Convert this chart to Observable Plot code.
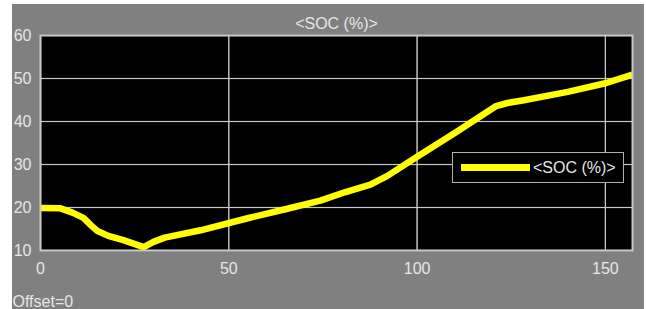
<!DOCTYPE html>
<html>
<head>
<meta charset="utf-8">
<script src="https://cdn.jsdelivr.net/npm/d3@7"></script>
<script src="https://cdn.jsdelivr.net/npm/@observablehq/plot@0.6"></script>
<style>
  html, body { margin: 0; padding: 0; background: #ffffff; }
  #wrap { position: relative; width: 646px; height: 309px; overflow: hidden; }
  #panel { position: absolute; left: 12px; top: 4px; width: 632px; height: 305px; background: #808080; }
  #chart { position: absolute; left: 0; top: 0; }
  #legend { position: absolute; left: 452px; top: 152px; width: 170px; height: 29px;
            background: #000; border: 1px solid #b0b0b0; font-family: "Liberation Sans", Arial, sans-serif;
            font-size: 16px; line-height: 16px; color: #e6e6e6; }
  #legend .sw { position: absolute; left: 8px; top: 11px; width: 69px; height: 7px; background: #ffff00; }
  #legend .tx { position: absolute; left: 80px; top: 7px; white-space: nowrap; }
</style>
</head>
<body>
<div id="wrap">
  <div id="panel"></div>
  <div id="chart"></div>
  <div id="legend"><div class="sw"></div><div class="tx"></div></div>
</div>
<script>
const title = "<SOC (%)>";
const seriesName = "<SOC (%)>";
const offsetText = "Offset=0";
const time = [0, 5.3, 8.5, 11.4, 13.5, 15, 18, 22, 27.4, 30, 33, 42.5, 55, 65, 74.3, 81, 87.6, 92, 100, 110, 121, 124, 128, 140, 150, 157.2];
const soc  = [19.9, 19.8, 18.8, 17.6, 15.8, 14.6, 13.4, 12.4, 10.8, 12.0, 13.0, 14.7, 17.5, 19.6, 21.6, 23.6, 25.3, 27.3, 31.8, 37.3, 43.6, 44.3, 44.9, 46.9, 48.9, 50.9];
const xTicks = [0, 50, 100, 150];
const yTicks = [10, 20, 30, 40, 50, 60];

const data = time.map((t, i) => ({t, v: soc[i]}));

const plot = Plot.plot({
  width: 646,
  height: 309,
  marginLeft: 40,
  marginTop: 35,
  marginRight: 14,
  marginBottom: 59,
  style: { background: "transparent", fontFamily: "'Liberation Sans', Arial, sans-serif", fontSize: "16px", color: "#e6e6e6", overflow: "visible" },
  x: { domain: [0, 157.2], ticks: xTicks, label: null },
  y: { domain: [10, 60], ticks: yTicks, label: null },
  marks: [
    Plot.frame({ fill: "black" }),
    Plot.gridY(yTicks, { stroke: "#4a4a4a", strokeOpacity: 1, strokeWidth: 1.5 }),
    Plot.gridX(xTicks, { stroke: "#8a8a8a", strokeOpacity: 1, strokeWidth: 1 }),
    Plot.axisX(xTicks, { tickSize: 0, tickPadding: 12, fill: "#e6e6e6", fontSize: 16 }),
    Plot.axisY(yTicks, { tickSize: 0, tickPadding: 9, fill: "#e6e6e6", fontSize: 16 }),
    Plot.tickX(xTicks, { x: d => d, y1: 10, y2: 11, stroke: "#c8c8c8", strokeWidth: 1.2 }),
    Plot.tickY(yTicks, { y: d => d, x1: 0, x2: 1.2, stroke: "#c8c8c8", strokeWidth: 1.2 }),
    Plot.line(data, { x: "t", y: "v", stroke: "#ffff00", strokeWidth: 6.5, strokeLinejoin: "round", strokeLinecap: "butt" }),
    Plot.frame({ stroke: "#c8c8c8", strokeWidth: 2 }),
    Plot.text([title], { frameAnchor: "top", dy: -12, lineAnchor: "middle", text: d => d, fill: "#e6e6e6", fontSize: 16 }),
    Plot.text([offsetText], { frameAnchor: "bottom-left", dx: -28, dy: 51, lineAnchor: "middle", text: d => d, fill: "#e6e6e6", fontSize: 16, textAnchor: "start" })
  ]
});
document.getElementById("chart").appendChild(plot);
document.querySelector("#legend .tx").textContent = seriesName;
</script>
</body>
</html>
